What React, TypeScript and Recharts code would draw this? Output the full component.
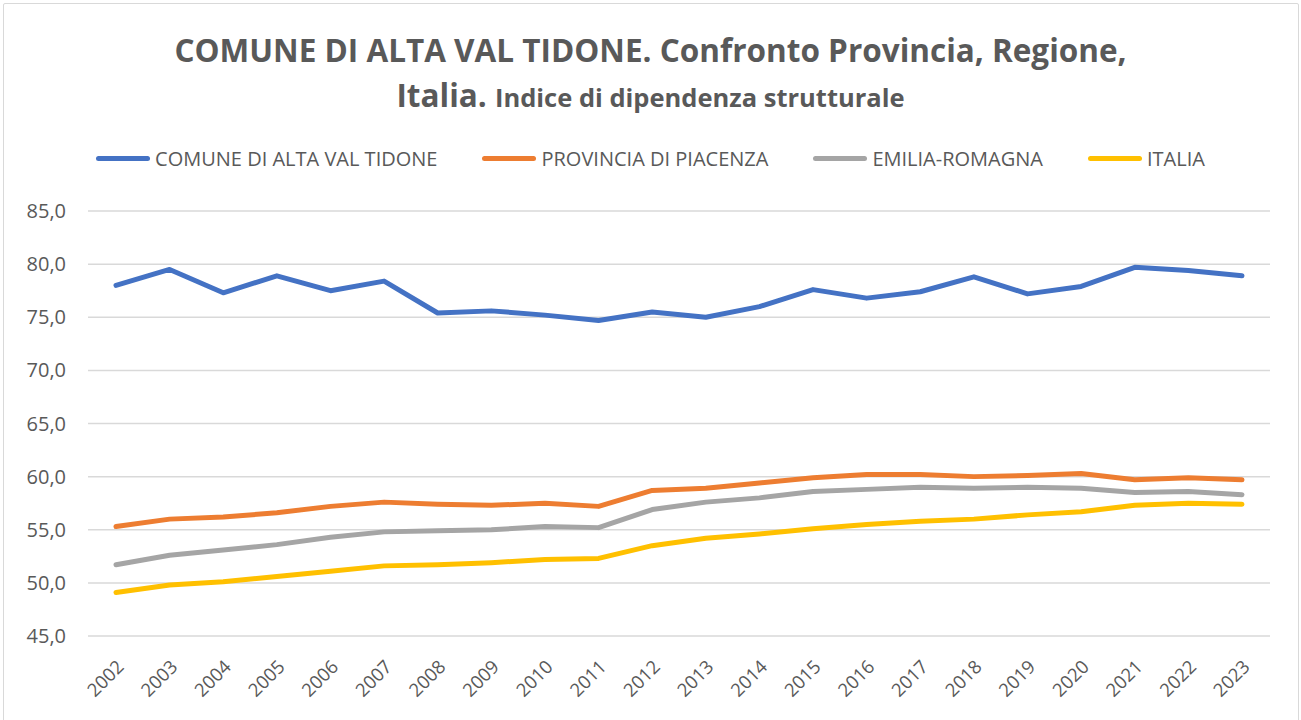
import React from "react";
import { CartesianGrid, Line, LineChart, XAxis, YAxis } from "recharts";

const YEARS = ["2002", "2003", "2004", "2005", "2006", "2007", "2008", "2009", "2010", "2011", "2012", "2013", "2014", "2015", "2016", "2017", "2018", "2019", "2020", "2021", "2022", "2023"];

const COMUNE = [78.0, 79.5, 77.3, 78.9, 77.5, 78.4, 75.4, 75.6, 75.2, 74.7, 75.5, 75.0, 76.0, 77.6, 76.8, 77.4, 78.8, 77.2, 77.9, 79.7, 79.4, 78.9];
const PROVINCIA = [55.3, 56.0, 56.2, 56.6, 57.2, 57.6, 57.4, 57.3, 57.5, 57.2, 58.7, 58.9, 59.4, 59.9, 60.2, 60.2, 60.0, 60.1, 60.3, 59.7, 59.9, 59.7];
const REGIONE = [51.7, 52.6, 53.1, 53.6, 54.3, 54.8, 54.9, 55.0, 55.3, 55.2, 56.9, 57.6, 58.0, 58.6, 58.8, 59.0, 58.9, 59.0, 58.9, 58.5, 58.6, 58.3];
const ITALIA = [49.1, 49.8, 50.1, 50.6, 51.1, 51.6, 51.7, 51.9, 52.2, 52.3, 53.5, 54.2, 54.6, 55.1, 55.5, 55.8, 56.0, 56.4, 56.7, 57.3, 57.5, 57.4];

const Y_TICKS = [45, 50, 55, 60, 65, 70, 75, 80, 85];

const SERIES = [
  { key: "comune", name: "COMUNE DI ALTA VAL TIDONE", color: "#4472C4" },
  { key: "provincia", name: "PROVINCIA DI PIACENZA", color: "#ED7D31" },
  { key: "regione", name: "EMILIA-ROMAGNA", color: "#A5A5A5" },
  { key: "italia", name: "ITALIA", color: "#FFC000" }
];

const rows = YEARS.map((year, i) => ({
  year,
  comune: COMUNE[i],
  provincia: PROVINCIA[i],
  regione: REGIONE[i],
  italia: ITALIA[i]
}));

const FONT = "'Open Sans', 'Noto Sans', sans-serif";
const TEXT = "#595959";

function YearTick({ x, y, payload }: any) {
  return (
    <g transform={`translate(${x + 9},${y + 24})`}>
      <text transform="rotate(-45)" textAnchor="end" fontSize={18.5} fill={TEXT} fontFamily={FONT}>
        {payload.value}
      </text>
    </g>
  );
}

export default function App() {
  return (
    <div style={{ position: "relative", width: 1301, height: 720, background: "#fff", fontFamily: FONT }}>
      <style>{"body{margin:0}"}</style>
      <div style={{ position: "absolute", left: 3, top: 3, width: 1294, height: 740, border: "1.5px solid #d9d9d9", borderRadius: 2 }} />
      <div style={{ position: "absolute", left: 0, top: 27, width: 1301, textAlign: "center", color: TEXT, fontWeight: 700, fontSize: 31.5, lineHeight: "45px" }}>
        COMUNE DI ALTA VAL TIDONE. Confronto Provincia, Regione,
        <br />
        Italia. <span style={{ fontSize: 25.5 }}>Indice di dipendenza strutturale</span>
      </div>
      <div style={{ position: "absolute", left: 0, top: 145, width: 1301, display: "flex", justifyContent: "center", gap: 45, color: TEXT, fontSize: 20 }}>
        {SERIES.map((s) => (
          <div key={s.key} style={{ display: "flex", alignItems: "center" }}>
            <span style={{ display: "inline-block", width: 54, height: 5, borderRadius: 3, background: s.color, marginRight: 5 }} />
            <span>{s.name}</span>
          </div>
        ))}
      </div>
      <div style={{ position: "absolute", left: 0, top: 0 }}>
        <LineChart width={1301} height={720} data={rows} margin={{ top: 211, right: 31, left: 8, bottom: 24 }}>
          <CartesianGrid vertical={false} stroke="#d9d9d9" strokeWidth={1.5} />
          <XAxis
            dataKey="year"
            axisLine={false}
            tickLine={false}
            interval={0}
            height={60}
            padding={{ left: 28, right: 28 }}
            tick={<YearTick />}
          />
          <YAxis
            domain={[45, 85]}
            ticks={Y_TICKS}
            axisLine={false}
            tickLine={false}
            width={80}
            tickMargin={16}
            tick={{ fontSize: 20, fill: TEXT, fontFamily: FONT }}
            tickFormatter={(v: number) => v.toFixed(1).replace(".", ",")}
          />
          {SERIES.map((s) => (
            <Line
              key={s.key}
              type="linear"
              dataKey={s.key}
              name={s.name}
              stroke={s.color}
              strokeWidth={5}
              strokeLinecap="round"
              strokeLinejoin="round"
              dot={false}
              isAnimationActive={false}
            />
          ))}
        </LineChart>
      </div>
    </div>
  );
}
